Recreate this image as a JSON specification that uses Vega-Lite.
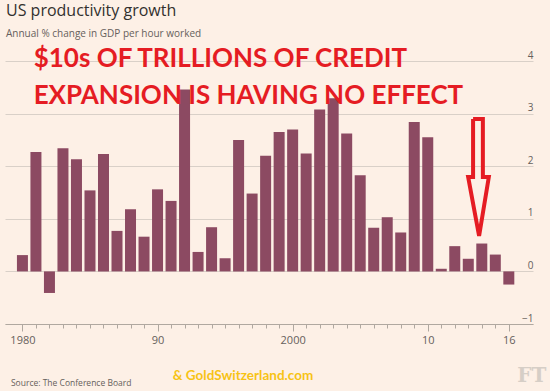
{
  "$schema": "https://vega.github.io/schema/vega-lite/v6.json",
  "autosize": {"type": "none"},
  "width": 528,
  "height": 263,
  "padding": {"left": 5, "top": 61, "right": 17, "bottom": 67},
  "background": "#fdf0e6",
  "config": {
    "view": {"stroke": null},
    "font": "Open Sans"
  },
  "title": {
    "text": "US productivity growth",
    "subtitle": "Annual % change in GDP per hour worked",
    "anchor": "start",
    "frame": "group",
    "dx": 1,
    "offset": 7,
    "font": "Open Sans",
    "fontSize": 16,
    "fontWeight": "normal",
    "color": "#33302e",
    "subtitleFont": "Open Sans",
    "subtitleFontSize": 10,
    "subtitleColor": "#66605c",
    "subtitlePadding": 10
  },
  "datasets": {
    "bars": [
      {"year": 1980, "value": 0.31},
      {"year": 1981, "value": 2.27},
      {"year": 1982, "value": -0.41},
      {"year": 1983, "value": 2.34},
      {"year": 1984, "value": 2.13},
      {"year": 1985, "value": 1.54},
      {"year": 1986, "value": 2.23},
      {"year": 1987, "value": 0.77},
      {"year": 1988, "value": 1.18},
      {"year": 1989, "value": 0.66},
      {"year": 1990, "value": 1.56},
      {"year": 1991, "value": 1.34},
      {"year": 1992, "value": 3.46},
      {"year": 1993, "value": 0.37},
      {"year": 1994, "value": 0.84},
      {"year": 1995, "value": 0.25},
      {"year": 1996, "value": 2.5},
      {"year": 1997, "value": 1.48},
      {"year": 1998, "value": 2.2},
      {"year": 1999, "value": 2.65},
      {"year": 2000, "value": 2.7},
      {"year": 2001, "value": 2.24},
      {"year": 2002, "value": 3.08},
      {"year": 2003, "value": 3.29},
      {"year": 2004, "value": 2.62},
      {"year": 2005, "value": 1.83},
      {"year": 2006, "value": 0.83},
      {"year": 2007, "value": 1.03},
      {"year": 2008, "value": 0.74},
      {"year": 2009, "value": 2.84},
      {"year": 2010, "value": 2.55},
      {"year": 2011, "value": 0.05},
      {"year": 2012, "value": 0.48},
      {"year": 2013, "value": 0.24},
      {"year": 2014, "value": 0.53},
      {"year": 2015, "value": 0.32},
      {"year": 2016, "value": -0.25}
    ],
    "arrow": [
      {"i": 0, "x": 2013.355, "y": 2.897},
      {"i": 1, "x": 2014.08, "y": 2.897},
      {"i": 2, "x": 2014.08, "y": 1.795},
      {"i": 3, "x": 2014.52, "y": 1.795},
      {"i": 4, "x": 2013.8, "y": 0.673},
      {"i": 5, "x": 2012.99, "y": 1.795},
      {"i": 6, "x": 2013.355, "y": 1.795},
      {"i": 7, "x": 2013.355, "y": 2.897}
    ],
    "notes": [
      {"x": 1980.83, "y": 3.88, "text": "$10s OF TRILLIONS OF CREDIT"},
      {"x": 1980.83, "y": 3.18, "text": "EXPANSION IS HAVING NO EFFECT"}
    ],
    "source": [
      {"x": 1979.15, "y": -2.12, "text": "Source: The Conference Board"}
    ],
    "gold": [
      {"x": 1991.13, "y": -1.99, "text": "& GoldSwitzerland.com"}
    ],
    "ft": [
      {"x": 2016.62, "y": -1.99, "text": "FT"}
    ]
  },
  "resolve": {"axis": {"x": "independent"}},
  "layer": [
    {
      "data": {"name": "bars"},
      "mark": {"type": "bar", "size": 11, "color": "#8c4a62"},
      "encoding": {
        "x": {
          "field": "year",
          "type": "quantitative",
          "scale": {"domain": [1979.08, 2017.42], "nice": false, "zero": false},
          "axis": {
            "orient": "bottom",
            "title": null,
            "grid": false,
            "values": [1980,1981,1982,1983,1984,1985,1986,1987,1988,1989,1990,1991,1992,1993,1994,1995,1996,1997,1998,1999,2000,2001,2002,2003,2004,2005,2006,2007,2008,2009,2010,2011,2012,2013,2014,2015,2016],
            "labels": false,
            "domainColor": "#b0a8a0",
            "tickColor": "#b0a8a0",
            "tickSize": 4
          }
        },
        "y": {
          "field": "value",
          "type": "quantitative",
          "scale": {"domain": [-1, 4], "nice": false},
          "axis": {
            "orient": "right",
            "title": null,
            "values": [-1, 0, 1, 2, 3, 4],
            "grid": true,
            "gridColor": "#d9d0c8",
            "domain": false,
            "ticks": false,
            "tickSize": 0,
            "labelAlign": "right",
            "labelBaseline": "alphabetic",
            "labelOffset": -3,
            "labelPadding": 0,
            "labelFont": "Open Sans",
            "labelFontSize": 10,
            "labelColor": "#66605c"
          }
        }
      }
    },
    {
      "data": {"name": "notes"},
      "mark": {"type": "text", "align": "left", "baseline": "alphabetic", "font": "Lato", "fontWeight": "bold", "fontSize": 26, "color": "#e51c23"},
      "encoding": {
        "x": {
          "field": "x",
          "type": "quantitative",
          "axis": {
            "orient": "bottom",
            "title": null,
            "grid": false,
            "domain": false,
            "values": [1980, 1990, 2000, 2010, 2016],
            "labelExpr": "datum.value == 1980 ? '1980' : datum.value == 1990 ? '90' : datum.value == 2000 ? '2000' : datum.value == 2010 ? '10' : '16'",
            "tickColor": "#b0a8a0",
            "tickSize": 7,
            "labelPadding": 3,
            "labelFont": "Open Sans",
            "labelFontSize": 11,
            "labelColor": "#66605c",
            "labelFlush": false,
            "labelOverlap": false
          }
        },
        "y": {"field": "y", "type": "quantitative"},
        "text": {"field": "text"}
      }
    },
    {
      "data": {"name": "arrow"},
      "mark": {"type": "line", "color": "#e51c23", "strokeWidth": 4, "strokeJoin": "miter"},
      "encoding": {
        "x": {"field": "x", "type": "quantitative", "axis": null},
        "y": {"field": "y", "type": "quantitative"},
        "order": {"field": "i"}
      }
    },
    {
      "data": {"name": "source"},
      "mark": {"type": "text", "align": "left", "baseline": "middle", "font": "Open Sans", "fontSize": 8.5, "color": "#66605c"},
      "encoding": {
        "x": {"field": "x", "type": "quantitative", "axis": null},
        "y": {"field": "y", "type": "quantitative"},
        "text": {"field": "text"}
      }
    },
    {
      "data": {"name": "gold"},
      "mark": {"type": "text", "align": "left", "baseline": "middle", "font": "Lato", "fontWeight": "bold", "fontSize": 13.5, "color": "#f7c315"},
      "encoding": {
        "x": {"field": "x", "type": "quantitative", "axis": null},
        "y": {"field": "y", "type": "quantitative"},
        "text": {"field": "text"}
      }
    },
    {
      "data": {"name": "ft"},
      "mark": {"type": "text", "align": "left", "baseline": "middle", "font": "DejaVu Serif", "fontWeight": "bold", "fontSize": 20, "color": "#d6cec6"},
      "encoding": {
        "x": {"field": "x", "type": "quantitative", "axis": null},
        "y": {"field": "y", "type": "quantitative"},
        "text": {"field": "text"}
      }
    }
  ]
}
